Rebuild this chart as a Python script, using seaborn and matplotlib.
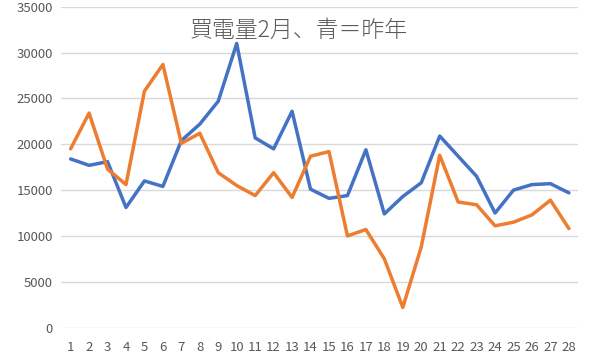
import pandas as pd
import seaborn as sns
import matplotlib.pyplot as plt

# データ
days = list(range(1, 29))
last_year = [18400, 17700, 18100, 13100, 16000, 15400, 20400, 22200, 24700, 31000,
             20700, 19500, 23600, 15100, 14100, 14400, 19400, 12400, 14300, 15800,
             20900, 18700, 16500, 12500, 15000, 15600, 15700, 14700]
this_year = [19500, 23400, 17300, 15600, 25800, 28700, 20100, 21200, 16900, 15500,
             14400, 16900, 14200, 18700, 19200, 10000, 10700, 7500, 2200, 8800,
             18800, 13700, 13400, 11100, 11500, 12300, 13900, 10800]
title = "買電量2月、青＝昨年"
yticks = list(range(0, 35001, 5000))

df = pd.DataFrame({
    "day": days * 2,
    "kwh": last_year + this_year,
    "series": ["昨年"] * len(days) + ["今年"] * len(days),
})

sns.set_theme(style="white")
plt.rcParams["font.family"] = ["Noto Sans CJK JP", "DejaVu Sans"]

fig, ax = plt.subplots(figsize=(5.96, 3.58), dpi=100)
fig.subplots_adjust(left=0.103, right=0.97, top=0.981, bottom=0.085)

sns.lineplot(data=df, x="day", y="kwh", hue="series",
             palette={"昨年": "#4472C4", "今年": "#ED7D31"},
             linewidth=2.5, legend=False, ax=ax)

ax.set_xlim(0.5, 28.5)
ax.set_ylim(0, 35000)
ax.set_xticks(days)
ax.set_yticks(yticks)
ax.set_xlabel("")
ax.set_ylabel("")
ax.grid(axis="y", color="#D9D9D9", linewidth=1)
ax.set_axisbelow(True)
for s in ax.spines.values():
    s.set_visible(False)
ax.tick_params(axis="both", length=0, labelsize=9.5, labelcolor="#595959")
ax.tick_params(axis="x", pad=10)
ax.tick_params(axis="y", pad=6)

fig.text(0.501, 0.915, title, ha="center", va="center", fontsize=16.5,
         color="#595959", fontweight="light")

plt.savefig("out.png")
plt.close()
